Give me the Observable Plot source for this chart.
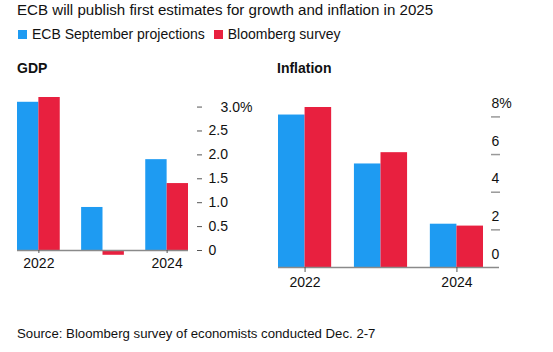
<!DOCTYPE html>
<html>
<head>
<meta charset="utf-8">
<script src="https://cdn.jsdelivr.net/npm/d3@7"></script>
<script src="https://cdn.jsdelivr.net/npm/@observablehq/plot@0.6"></script>
<style>
  html, body { margin: 0; padding: 0; background: #fff; }
  body { width: 553px; height: 352px; position: relative; overflow: hidden;
         font-family: "Liberation Sans", Arial, sans-serif; color: #111; }
  .abs { position: absolute; white-space: nowrap; }
  #title { left: 17px; top: 1.3px; font-size: 15.1px; line-height: 18px; }
  #legend { left: 18px; top: 26px; font-size: 14px; line-height: 16.8px; display: flex; align-items: center; }
  .sw { display: inline-block; width: 9px; height: 9px; margin-right: 5px; }
  .item { display: inline-flex; align-items: center; margin-right: 9px; }
  .ptitle { font-size: 14px; font-weight: bold; line-height: 16.8px; top: 60.2px; }
  #source { left: 17px; top: 326.2px; font-size: 13.2px; line-height: 15.6px; }
  #gdp { left: 0px; top: 85px; }
  #inf { left: 270px; top: 93px; }
</style>
</head>
<body>
<div id="title" class="abs">ECB will publish first estimates for growth and inflation in 2025</div>
<div id="legend" class="abs"></div>
<div class="abs ptitle" style="left:17px">GDP</div>
<div class="abs ptitle" style="left:277px">Inflation</div>
<div id="gdp" class="abs"></div>
<div id="inf" class="abs"></div>
<div id="source" class="abs">Source: Bloomberg survey of economists conducted Dec. 2-7</div>
<script>
// ---- data ----
const years = [2022, 2023, 2024];
const seriesNames = ["ECB September projections", "Bloomberg survey"];
const gdpEcb = [3.1, 0.9, 1.9];
const gdpSurvey = [3.2, -0.1, 1.4];
const infEcb = [8.1, 5.5, 2.3];
const infSurvey = [8.5, 6.1, 2.2];
const gdpTicks = [0, 0.5, 1, 1.5, 2, 2.5, 3];
const infTicks = [0, 2, 4, 6, 8];
const xTicks = [2022, 2024];
const colors = ["#1e9bf2", "#e8203f"];

// legend
const legend = document.getElementById("legend");
seriesNames.forEach((s, i) => {
  const it = document.createElement("span");
  it.className = "item";
  it.innerHTML = `<span class="sw" style="background:${colors[i]}"></span>${s}`;
  legend.appendChild(it);
});

function rows(a, b, half) {
  return years.flatMap((yr, i) => [
    {series: seriesNames[0], x1: yr - half, x2: yr, v: a[i]},
    {series: seriesNames[1], x1: yr, x2: yr + half, v: b[i]}
  ]);
}

const font = "Liberation Sans, Arial, sans-serif";

// GDP
{
  const half = 1 / 3;
  const dom = [years[0] - half, years[years.length - 1] + half];
  const chart = Plot.plot({
    width: 260, height: 195,
    marginLeft: 17, marginRight: 64, marginTop: 12, marginBottom: 30,
    style: {fontFamily: font, fontSize: "14px", color: "#111", background: "transparent", overflow: "visible"},
    x: {domain: dom, insetRight: 8, label: null},
    y: {domain: [0, 3.2], label: null},
    color: {domain: seriesNames, range: colors},
    marks: [
      Plot.rect(rows(gdpEcb, gdpSurvey, half), {x1: "x1", x2: "x2", y1: 0, y2: "v", fill: "series"}),
      Plot.ruleY([0], {x1: dom[0], x2: dom[1], stroke: "#8a8a8a", strokeWidth: 1.6}),
      Plot.axisX({ticks: xTicks, tickFormat: d => String(d), tickSize: 3, tickPadding: 5, stroke: "#555", fill: "#111", fontSize: 14, label: null}),
      Plot.axisY({anchor: "right", ticks: gdpTicks, tickSize: 5, stroke: "#555", fill: "none", label: null}),
      Plot.axisY({anchor: "right", ticks: gdpTicks.filter(t => t < 3), tickSize: 0, tickPadding: 12,
        tickFormat: d => d === 0 ? "0" : d.toFixed(1), fill: "#111", fontSize: 14, label: null}),
      Plot.axisY({anchor: "right", ticks: gdpTicks.filter(t => t === 3), tickSize: 0, tickPadding: 24,
        tickFormat: d => d.toFixed(1) + "%", fill: "#111", fontSize: 14, label: null})
    ]
  });
  document.getElementById("gdp").appendChild(chart);
}

// Inflation
{
  const half = 0.35;
  const dom = [years[0] - half, years[years.length - 1] + half];
  const chart = Plot.plot({
    width: 283, height: 204,
    marginLeft: 8, marginRight: 54, marginTop: 14, marginBottom: 30,
    style: {fontFamily: font, fontSize: "14px", color: "#111", background: "transparent", overflow: "visible"},
    x: {domain: dom, insetRight: 16, label: null},
    y: {domain: [0, 8.5], label: null},
    color: {domain: seriesNames, range: colors},
    marks: [
      Plot.rect(rows(infEcb, infSurvey, half), {x1: "x1", x2: "x2", y1: 0, y2: "v", fill: "series"}),
      Plot.ruleY([0], {stroke: "#8a8a8a", strokeWidth: 1.6}),
      Plot.axisX({ticks: xTicks, tickFormat: d => String(d), tickSize: 5, tickPadding: 5, stroke: "#555", fill: "#111", fontSize: 14, label: null}),
      Plot.axisY({anchor: "right", ticks: infTicks.filter(t => t > 0), tickSize: 9, dx: -9, stroke: "#999", strokeWidth: 1.5, fill: "none", label: null}),
      Plot.axisY({anchor: "right", ticks: infTicks, tickSize: 0, tickPadding: 0, dx: -8, dy: -13.3,
        tickFormat: d => d === 8 ? "8%" : String(d), fill: "#111", fontSize: 14, label: null})
    ]
  });
  document.getElementById("inf").appendChild(chart);
}
</script>
</body>
</html>
